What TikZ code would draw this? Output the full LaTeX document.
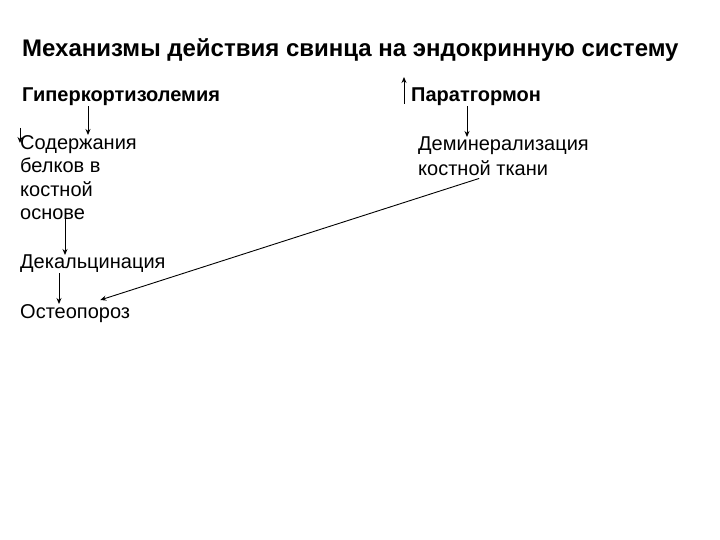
\documentclass[tikz,border=0pt]{standalone}
\usepackage{fontspec}
\setmainfont{Liberation Sans}
\usetikzlibrary{arrows.meta}

\begin{document}
\begin{tikzpicture}[x=1pt, y=-1pt,
  txt/.style={anchor=north west, inner sep=0pt, align=left, font=\fontsize{20}{23.5}\selectfont},
  hd/.style={txt, font=\fontsize{20}{24}\selectfont\bfseries},
  arr/.style={line width=0.9pt, -{Stealth[length=6pt, width=5pt]}}]
\useasboundingbox (0,0) rectangle (720,540);
\node[hd, font=\fontsize{24}{28}\selectfont\bfseries] (title) at (22,38) {Механизмы действия свинца на эндокринную систему};
\node[hd] (hyper) at (22,88) {Гиперкортизолемия};
\node[hd] (par) at (411,88) {Паратгормон};
\node[txt] (sod) at (20,135) {Содержания\\белков в\\костной\\основе};
\node[txt] (dek) at (20,255) {Декальцинация};
\node[txt] (osteo) at (20,304) {Остеопороз};
\node[txt] (dem1) at (418,137) {Деминерализация};
\node[txt] (dem2) at (418,160) {костной ткани};
\coordinate (s0) at (20,128);
\coordinate (p0) at (404,104);
\draw[arr] (hyper.south -| 88,0) -- (sod.north -| 88,0);
\draw[arr] (s0) -- ++(0,15);
\draw[arr] ([yshift=8pt]sod.south -| 65,0) -- (dek.north -| 65,0);
\draw[arr] (dek.south -| 59,0) -- (osteo.north -| 59,0);
\draw[arr] (p0) -- ++(0,-27);
\draw[arr] (par.south -| 467,0) -- (dem1.north -| 467,0);
\draw[arr] ([xshift=-4pt, yshift=-3pt]dem2.south) -- ([xshift=-30pt, yshift=4pt]osteo.north east);
\end{tikzpicture}
\end{document}
